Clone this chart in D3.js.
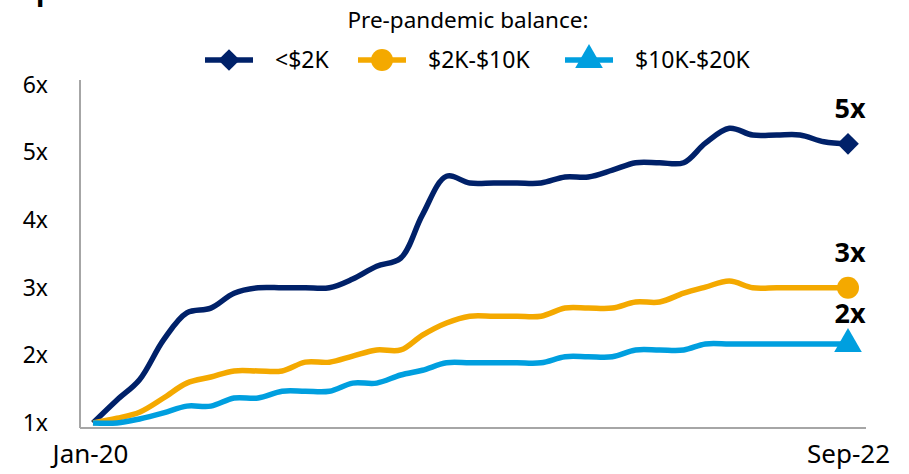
<!DOCTYPE html>
<html>
<head>
<meta charset="utf-8">
<script src="https://cdn.jsdelivr.net/npm/d3@7"></script>
<style>
  body { margin: 0; background: #fff; }
  svg { display: block; font-family: "Noto Sans", sans-serif; }
</style>
</head>
<body>
<script>
// months Jan-20 .. Sep-22
const months = d3.timeMonth.range(new Date(2020, 0, 1), new Date(2022, 9, 1));

// balance multiple vs Jan-20
const lowBal = [1.0, 1.34, 1.64, 2.23, 2.63, 2.70, 2.92, 3.0, 3.0, 3.0, 3.0, 3.13, 3.32, 3.44, 4.08, 4.65,
  4.55, 4.55, 4.55, 4.55, 4.64, 4.64, 4.74, 4.85, 4.85, 4.85, 5.14, 5.36, 5.26, 5.26, 5.26, 5.16, 5.13];
const midBal = [1.0, 1.07, 1.16, 1.37, 1.59, 1.68, 1.77, 1.77, 1.77, 1.90, 1.90, 1.99, 2.08, 2.08, 2.30, 2.48,
  2.58, 2.58, 2.58, 2.58, 2.70, 2.70, 2.70, 2.79, 2.79, 2.92, 3.01, 3.10, 3.0, 3.0, 3.0, 3.0, 3.0];
const highBal = [1.0, 1.0, 1.06, 1.15, 1.25, 1.25, 1.37, 1.37, 1.47, 1.47, 1.47, 1.59, 1.59, 1.71, 1.78, 1.89,
  1.89, 1.89, 1.89, 1.89, 1.98, 1.98, 1.98, 2.08, 2.08, 2.08, 2.17, 2.17, 2.17, 2.17, 2.17, 2.17, 2.17];

const seriesNames = ["<$2K", "$2K-$10K", "$10K-$20K"];
const endLabels = ["5x", "3x", "2x"];
const yTicks = [1, 2, 3, 4, 5, 6];
const legendTitle = "Pre-pandemic balance:";

const colors = ["#002169", "#f4a900", "#009fdf"];
const symbols = [d3.symbolDiamond2, d3.symbolCircle, d3.symbolTriangle];

const series = [lowBal, midBal, highBal].map((vals, k) => ({
  name: seriesNames[k],
  label: endLabels[k],
  color: colors[k],
  symbol: symbols[k],
  values: vals.map((v, i) => ({ date: months[i], v: v }))
}));

const width = 909, height = 474;

const svg = d3.select("body").append("svg")
  .attr("width", width)
  .attr("height", height);

const x = d3.scaleTime()
  .domain([months[0], months[months.length - 1]])
  .range([93, 848]);

const y = d3.scaleLinear()
  .domain([1, 6])
  .range([423, 85]);

// cut-off title remnant at the very top (the reference shows only its descender)
svg.append("text")
  .attr("x", 36)
  .attr("y", 0)
  .style("font-size", "28px")
  .style("font-weight", "bold")
  .text("p");

// axis lines
svg.append("line")
  .attr("x1", 80).attr("x2", 80)
  .attr("y1", 80).attr("y2", 428)
  .attr("stroke", "#a6a6a6")
  .attr("stroke-width", 2);

svg.append("line")
  .attr("x1", 80).attr("x2", 866)
  .attr("y1", 428).attr("y2", 428)
  .attr("stroke", "#a6a6a6")
  .attr("stroke-width", 2);

// y axis labels
const yAxis = svg.append("g")
  .attr("transform", "translate(80,0)")
  .call(d3.axisLeft(y).tickValues(yTicks).tickFormat(d => d + "x").tickSize(0).tickPadding(32));
yAxis.select(".domain").remove();
yAxis.selectAll("text")
  .style("font-family", "'Noto Sans', sans-serif")
  .style("font-size", "23px")
  .attr("fill", "#000");

// x axis labels (first and last month only)
const xAxis = svg.append("g")
  .attr("transform", "translate(0,428)")
  .call(d3.axisBottom(x)
    .tickValues([months[0], months[months.length - 1]])
    .tickFormat(d3.timeFormat("%b-%y"))
    .tickSize(0)
    .tickPadding(17));
xAxis.select(".domain").remove();
xAxis.selectAll("text")
  .style("font-family", "'Noto Sans', sans-serif")
  .style("font-size", "26px")
  .attr("fill", "#000")
  .attr("x", (d, i) => i === 0 ? -3 : 0);

// lines
const line = d3.line()
  .x(d => x(d.date))
  .y(d => y(d.v))
  .curve(d3.curveCatmullRom);

svg.selectAll(".series")
  .data(series)
  .join("path")
  .attr("class", "series")
  .attr("d", d => line(d.values))
  .attr("fill", "none")
  .attr("stroke", d => d.color)
  .attr("stroke-width", 5.5)
  .attr("stroke-linejoin", "round");

// end markers
const last = d => d.values[d.values.length - 1];
const symbolSize = [300, 380, 330];

svg.selectAll(".endmark")
  .data(series)
  .join("path")
  .attr("class", "endmark")
  .attr("transform", d => `translate(${x(last(d).date)},${y(last(d).v)})`)
  .attr("d", (d, i) => d3.symbol(d.symbol, symbolSize[i])())
  .attr("fill", d => d.color);

// end labels
const labelY = [118, 262, 323];
svg.selectAll(".endlabel")
  .data(series)
  .join("text")
  .attr("class", "endlabel")
  .attr("x", d => x(last(d).date) + 2)
  .attr("y", (d, i) => labelY[i])
  .attr("text-anchor", "middle")
  .style("font-size", "27px")
  .style("font-weight", "bold")
  .text(d => d.label);

// legend
svg.append("text")
  .attr("x", 468)
  .attr("y", 28)
  .attr("text-anchor", "middle")
  .style("font-size", "22.5px")
  .text(legendTitle);

const legendX = [205, 358, 565];
const legend = svg.selectAll(".legend")
  .data(series)
  .join("g")
  .attr("class", "legend")
  .attr("transform", (d, i) => `translate(${legendX[i]},60)`);

legend.append("line")
  .attr("x1", 0).attr("x2", 48)
  .attr("stroke", d => d.color)
  .attr("stroke-width", 5.5);

legend.append("path")
  .attr("transform", "translate(24,0)")
  .attr("d", (d, i) => d3.symbol(d.symbol, symbolSize[i])())
  .attr("fill", d => d.color);

legend.append("text")
  .attr("x", 70)
  .attr("y", 8)
  .style("font-size", "23px")
  .text(d => d.name);
</script>
</body>
</html>
